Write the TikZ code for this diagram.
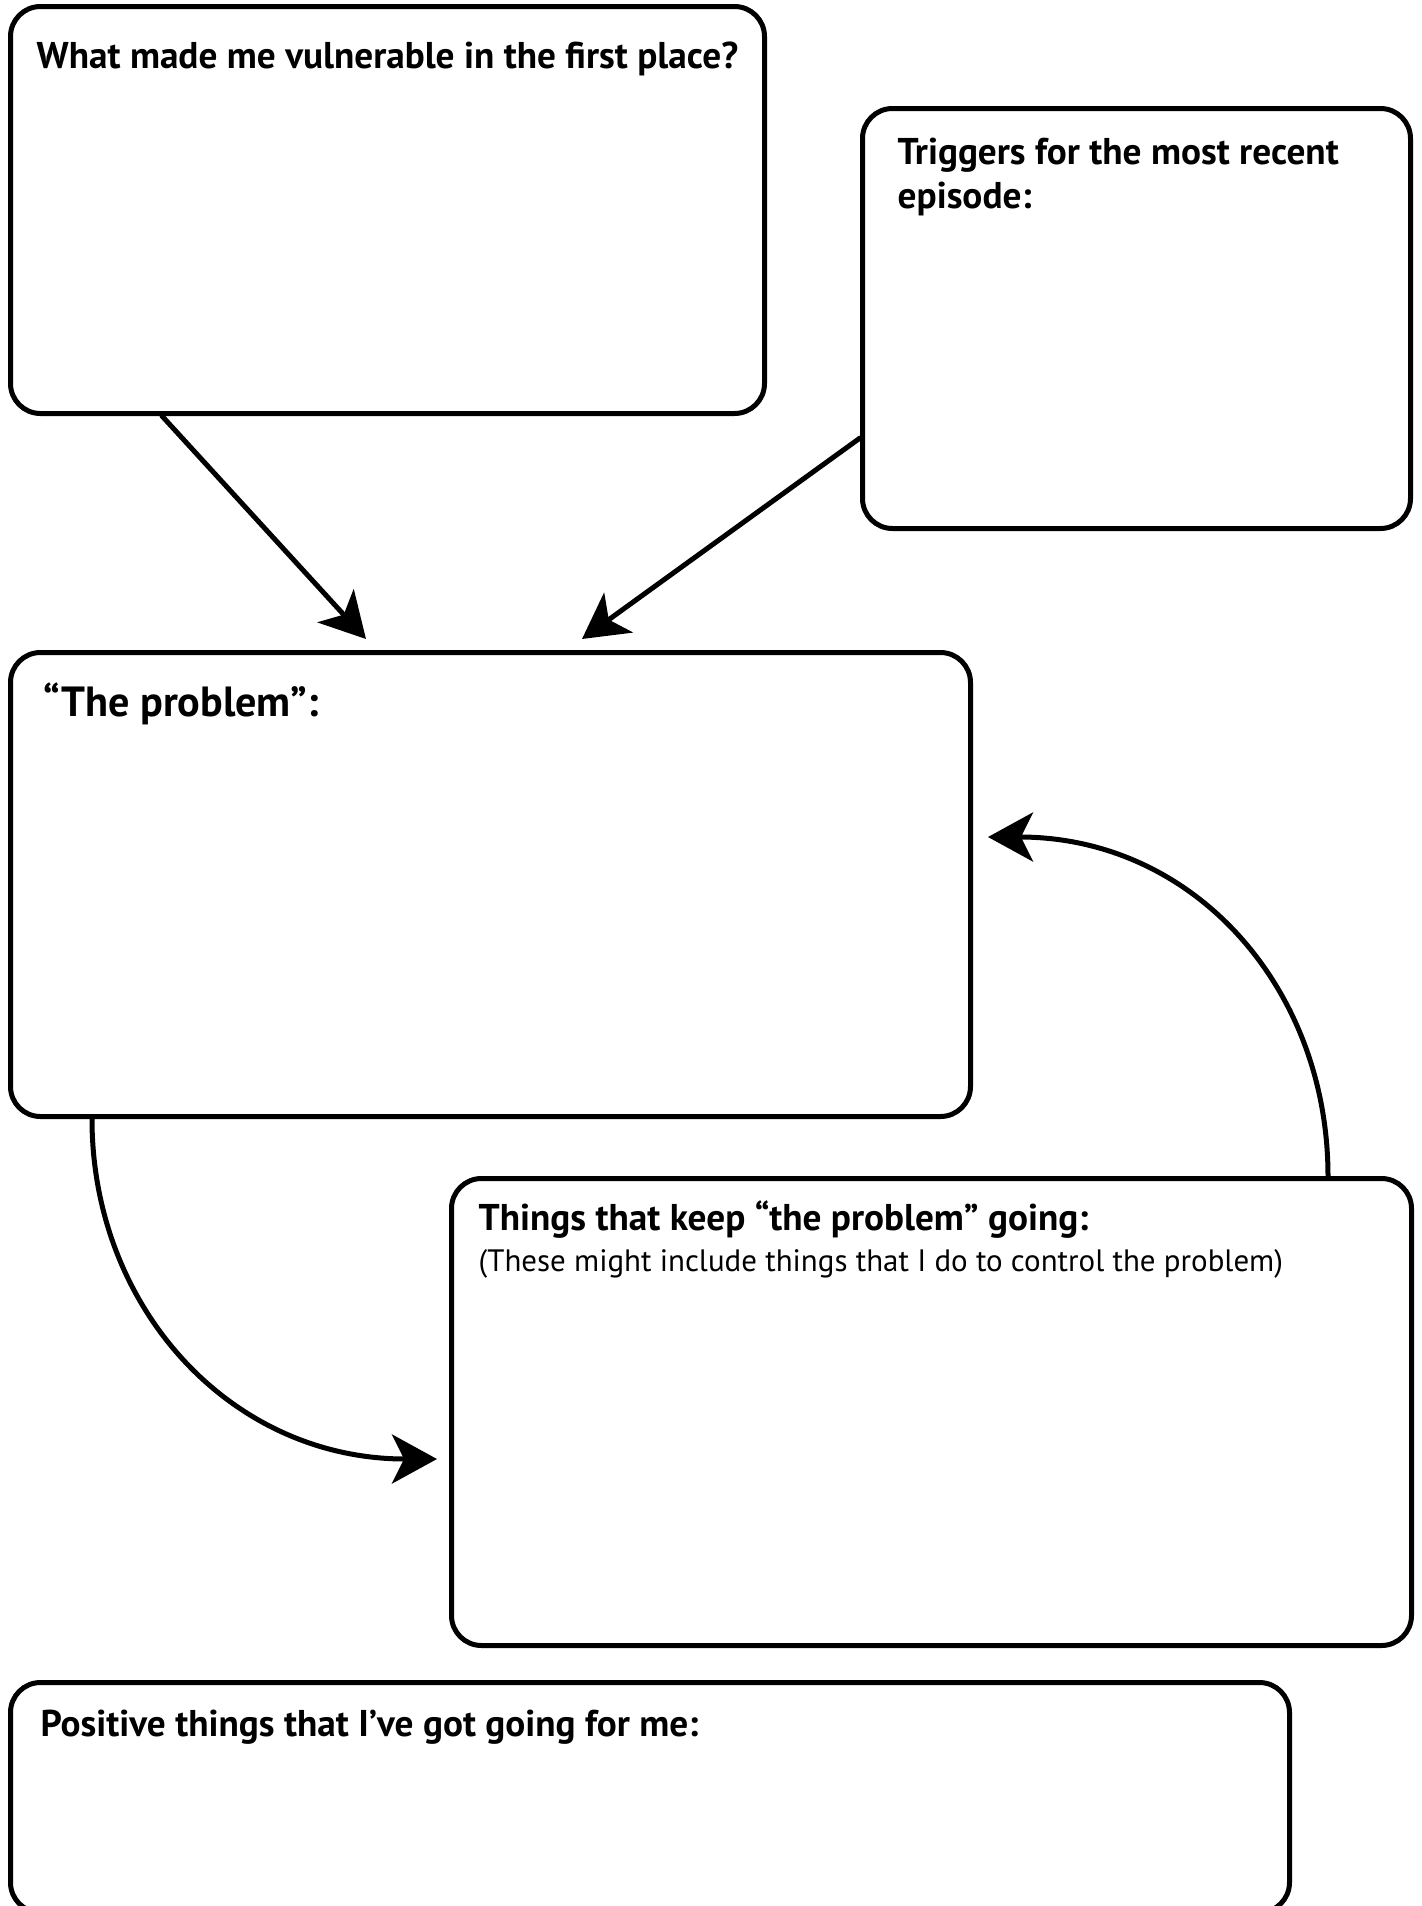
\documentclass[tikz,border=0pt]{standalone}
\usepackage{fontspec}
\setmainfont{PT Sans}
\usepackage{tikz}
\usetikzlibrary{arrows.meta,calc}

\tikzset{
  card/.style={draw, line width=0.5mm, rounded corners=3mm, inner sep=0pt, anchor=north west},
  cardhead/.style={font=\fontsize{10.6}{12}\selectfont\bfseries, anchor=base west, inner sep=0pt},
  cardnote/.style={font=\fontsize{8.8}{11}\selectfont, anchor=base west, inner sep=0pt},
  flow/.style={line width=0.5mm, -{Stealth[length=4.5mm,width=4.9mm,inset=1.2mm]}},
}

\begin{document}
\begin{tikzpicture}[x=0.1mm, y=-0.1mm, line cap=round, line join=round]
  \useasboundingbox (0,0) rectangle (1421,1906); % page size in px

  % boxes
  \node[card, minimum width=75.4mm, minimum height=40.7mm] (vuln) at (8,4) {};
  \node[card, minimum width=54.8mm, minimum height=42.0mm] (trig) at (860,106) {};
  \node[card, minimum width=96.0mm, minimum height=46.4mm] (problem) at (8,650) {};
  \node[card, minimum width=96.0mm, minimum height=46.7mm] (keep) at (449,1176) {};
  \node[card, minimum width=127.9mm, minimum height=23.0mm] (positive) at (8,1680) {};

  % headings
  \node[cardhead] (vulnhead) at ([shift={(28,64)}]vuln.north west)
    {What made me vulnerable in the first place?};
  \node[cardhead] (trighead) at ([shift={(37,58)}]trig.north west)
    {Triggers for the most recent};
  \node[cardhead] (trighead2) at ([shift={(37,102)}]trig.north west)
    {episode:};
  \node[cardhead, font=\fontsize{12}{14}\selectfont\bfseries] (probhead) at ([shift={(35,66)}]problem.north west)
    {“The problem”:};
  \node[cardhead] (keephead) at ([shift={(29,54)}]keep.north west)
    {Things that keep “the problem” going:};
  \node[cardnote] (keepnote) at ([shift={(29,95)}]keep.north west)
    {(These might include things that I do to control the problem)};
  \node[cardhead] (poshead) at ([shift={(32,56)}]positive.north west)
    {Positive things that I’ve got going for me:};

  % connectors
  \coordinate (v1) at ([shift={(154,0)}]vuln.south west);
  \coordinate (p1) at ([shift={(358,-11)}]problem.north west);
  \coordinate (t1) at ([shift={(0,332)}]trig.north west);
  \coordinate (p2) at ([shift={(574,-11)}]problem.north west);
  \coordinate (k1) at ([shift={(879,0)}]keep.north west);
  \coordinate (p3) at ([shift={(15,187)}]problem.north east);
  \coordinate (p4) at ([shift={(84,0)}]problem.south west);
  \coordinate (k2) at ([shift={(-12,283)}]keep.north west);

  \draw[flow] (v1) -- (p1);
  \draw[flow] (t1) -- (p2);
  \draw[flow] (k1) .. controls ($(k1)+(0,-188)$) and ($(p3)+(206,0)$) .. (p3);
  \draw[flow] (p4) .. controls ($(p4)+(0,188)$) and ($(k2)+(-207,0)$) .. (k2);
\end{tikzpicture}
\end{document}
